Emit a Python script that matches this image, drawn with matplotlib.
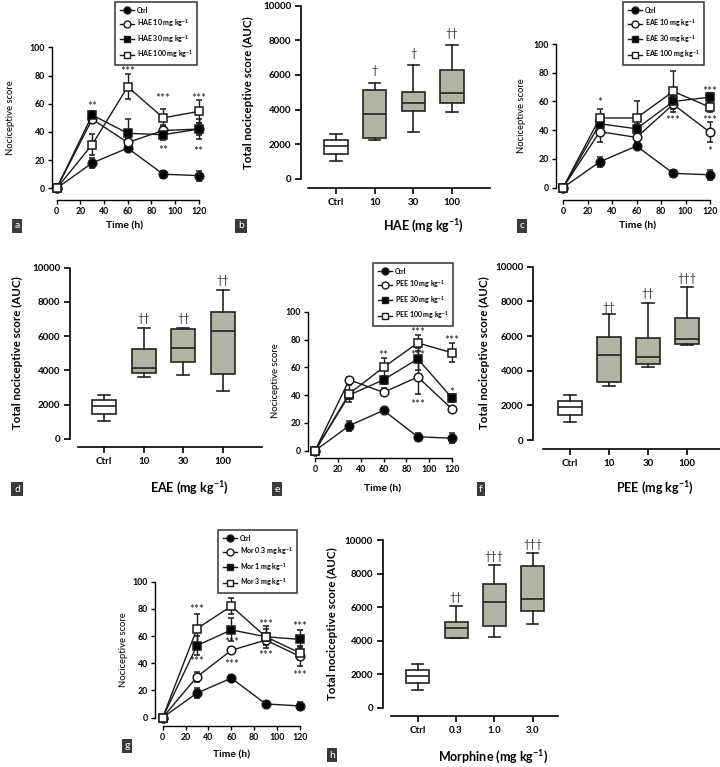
import matplotlib
matplotlib.use("Agg")
import matplotlib.pyplot as plt
from matplotlib.lines import Line2D

plt.rcParams['font.family'] = ['Lato', 'DejaVu Sans']
plt.rcParams['mathtext.default'] = 'regular'

# ---- data ----
TIME = [0, 30, 60, 90, 120]

# panel a - HAE
a_ctrl = [0, 18, 28.5, 10, 9]
a_ctrl_err = [0, 3.5, 2, 2.5, 3.5]
a_hae10 = [0, 49, 32.5, 41, 42]
a_hae10_err = [0, 3, 3, 4, 4]
a_hae30 = [0, 52, 39, 38, 42]
a_hae30_err = [0, 3, 10, 4, 7]
a_hae100 = [0, 31, 72, 50, 54.5]
a_hae100_err = [0, 7.5, 9, 6.5, 8]
a_stars = [(30, 60, '**'), (60, 85, '***'), (90, 66, '***'), (120, 66, '***'),
           (90, 29, '**'), (120, 28, '**')]

# panel c - EAE
c_ctrl = [0, 18, 29, 10, 9]
c_ctrl_err = [0, 3.5, 2, 2.5, 3.5]
c_eae10 = [0, 39, 35, 58, 38.5]
c_eae10_err = [0, 7.5, 3, 3, 7]
c_eae30 = [0, 44.5, 41, 60, 63]
c_eae30_err = [0, 3, 3, 4, 3]
c_eae100 = [0, 48.5, 48.5, 67, 56]
c_eae100_err = [0, 6, 12, 14.5, 3]
c_stars = [(30, 61, '*'), (90, 87, '***'), (120, 69, '***'), (90, 49, '***'),
           (120, 49, '***'), (120, 27, '*')]

# panel e - PEE
e_ctrl = [0, 18, 29, 10, 9]
e_ctrl_err = [0, 3.5, 2, 3, 3.5]
e_pee10 = [0, 51, 42, 53, 30]
e_pee10_err = [0, 2, 3, 12.5, 2.5]
e_pee30 = [0, 40, 51, 66, 38]
e_pee30_err = [0, 3, 3, 8, 3]
e_pee100 = [0, 41, 60, 77.5, 70.5]
e_pee100_err = [0, 6, 7, 6, 7]
e_stars = [(60, 70.5, '**'), (90, 87, '***'), (90, 70.5, '***'), (120, 81, '***'),
           (120, 44, '*'), (90, 35, '***')]

# panel g - morphine
g_ctrl = [0, 18, 29, 10, 8.5]
g_ctrl_err = [0, 3.5, 2, 2.5, 3]
g_mor03 = [0, 30, 49.5, 57, 45]
g_mor03_err = [0, 3.5, 2, 3, 7]
g_mor1 = [0, 53, 64.5, 59.5, 57.5]
g_mor1_err = [0, 7, 8.5, 6, 7]
g_mor3 = [0, 65.5, 82, 59.5, 47.5]
g_mor3_err = [0, 11, 6, 8, 5]
g_stars = [(30, 81.5, '***'), (30, 43, '***'), (60, 92.5, '***'), (60, 57, '***'),
           (60, 41, '***'), (90, 70.5, '***'), (90, 47.5, '***'), (120, 69, '***'),
           (120, 33, '***')]

# box plots: whislo, q1, med, q3, whishi per group
DOSES = ['Ctrl', '10', '30', '100']
MOR_DOSES = ['Ctrl', '0.3', '1.0', '3.0']

b_whislo = [1050, 2250, 2700, 3850]
b_q1 = [1430, 2350, 3900, 4350]
b_med = [1900, 3750, 4400, 4950]
b_q3 = [2250, 5100, 5000, 6300]
b_whishi = [2580, 5550, 6550, 7700]
b_marks = ['', '†', '†', '††']
b_mark_y = [0, 6280, 7250, 8400]

d_whislo = [1030, 3610, 3730, 2780]
d_q1 = [1475, 3850, 4485, 3790]
d_med = [1900, 4170, 5320, 6330]
d_q3 = [2250, 5240, 6400, 7440]
d_whishi = [2580, 6500, 6500, 8700]
d_marks = ['', '††', '††', '††']
d_mark_y = [0, 7050, 7050, 9280]

f_whislo = [1030, 3115, 4230, 5460]
f_q1 = [1450, 3370, 4385, 5540]
f_med = [1900, 4900, 4810, 5830]
f_q3 = [2250, 5960, 5900, 7060]
f_whishi = [2580, 7250, 7920, 8850]
f_marks = ['', '††', '††', '†††']
f_mark_y = [0, 7650, 8460, 9330]

h_whislo = [1050, 4135, 4200, 5010]
h_q1 = [1450, 4175, 4860, 5750]
h_med = [1890, 4730, 6290, 6480]
h_q3 = [2250, 5130, 7370, 8450]
h_whishi = [2600, 6060, 8520, 9240]
h_marks = ['', '††', '†††', '†††']
h_mark_y = [0, 6560, 8990, 9760]

# ---- layout helpers (pixel coordinates of the 720x767 canvas) ----
W, H = 720, 767
fig = plt.figure(figsize=(7.2, 7.67), dpi=100)
PT = 0.72  # points per pixel at 100 dpi


def axes_px(l, r, t, b):
    return fig.add_axes([l / W, 1 - b / H, (r - l) / W, (b - t) / H])


def ftext(x, y, s, **kw):
    fig.text(x / W, 1 - y / H, s, ha='center', va='center', **kw)


def panel_tag(x, y, s):
    fig.text(x / W, 1 - y / H, s, ha='center', va='center', color='white', fontsize=7.5,
             bbox=dict(boxstyle='square,pad=0.25', fc='#3a3a3a', ec='none'))


def line_panel(x0, x120, y100, y0, lsp, bsp, series, stars, leg_xy):
    ax = axes_px(x0, x120, y100, y0)
    ax.set_xlim(0, 120)
    ax.set_ylim(0, 100)
    handles = []
    for vals, err, mk, filled, label in series:
        fc = 'black' if filled else 'white'
        cont = ax.errorbar(TIME, vals, yerr=err, fmt='-' + mk, color='#1a1a1a', mfc=fc,
                           mec='#1a1a1a', ms=6.2, mew=1.1, lw=1.0, elinewidth=1.0,
                           capsize=2.5, capthick=1.0)
        for art in cont.get_children():
            art.set_clip_on(False)
        handles.append(Line2D([], [], color='#1a1a1a', marker=mk, mfc=fc, mec='#1a1a1a',
                              ms=5, mew=1, lw=1, label=label))
    for x, y, s in stars:
        ax.text(x, y - 2, s, ha='center', va='center', fontsize=8.5, color='#222')
    for side in ('top', 'right'):
        ax.spines[side].set_visible(False)
    ax.spines['left'].set_position(('outward', (x0 - lsp) * PT))
    ax.spines['bottom'].set_position(('outward', (bsp - y0) * PT))
    ax.spines['left'].set_bounds(0, 100)
    ax.spines['bottom'].set_bounds(0, 120)
    for sp in ('left', 'bottom'):
        ax.spines[sp].set_linewidth(1.0)
    ax.set_xticks(range(0, 121, 20))
    ax.set_yticks(range(0, 101, 20))
    ax.tick_params(labelsize=6.3, length=3, width=1.0, pad=2)
    for lab in ax.get_xticklabels() + ax.get_yticklabels():
        lab.set_fontweight('bold')
    leg = ax.legend(handles=handles, loc='upper left',
                    bbox_to_anchor=(leg_xy[0] / W, 1 - leg_xy[1] / H),
                    bbox_transform=fig.transFigure, borderaxespad=0, fancybox=False,
                    edgecolor='#333', framealpha=1, handlelength=2.0, handletextpad=0.4,
                    labelspacing=0.5, borderpad=0.7,
                    prop={'size': 5, 'weight': 'bold'})
    leg.get_frame().set_linewidth(1.1)
    return ax


def box_panel(x1, step, y10k, y0, lsp, bsp, bstart, bend, whislo, q1, med, q3, whishi,
              cats, marks, mark_y):
    right = min(bend, W)
    ax = axes_px(lsp, right, y10k, y0)
    ax.set_xlim(1 - (x1 - lsp) / step, 1 + (right - x1) / step)
    ax.set_ylim(0, 10000)
    stats = []
    for i in range(4):
        stats.append(dict(whislo=whislo[i], q1=q1[i], med=med[i], q3=q3[i],
                          whishi=whishi[i], label=cats[i]))
    bp = ax.bxp(stats, positions=[1, 2, 3, 4], widths=0.6, patch_artist=True,
                showfliers=False,
                boxprops=dict(linewidth=1.2, edgecolor='#222'),
                medianprops=dict(color='#222', linewidth=1.2),
                whiskerprops=dict(color='#222', linewidth=1.2),
                capprops=dict(color='#222', linewidth=1.2))
    for i, patch in enumerate(bp['boxes']):
        patch.set_facecolor('white' if i == 0 else '#b3b3a3')
    for i in range(4):
        if marks[i]:
            ax.text(i + 1, mark_y[i], marks[i], ha='center', va='center',
                    fontsize=8, color='#333')
    for side in ('top', 'right'):
        ax.spines[side].set_visible(False)
    ax.spines['bottom'].set_position(('outward', (bsp - y0) * PT))
    ax.spines['left'].set_bounds(0, 10000)
    ax.spines['bottom'].set_bounds(1 - (x1 - bstart) / step, 1 + (bend - x1) / step)
    for sp in ('left', 'bottom'):
        ax.spines[sp].set_linewidth(1.2)
    ax.set_yticks(range(0, 10001, 2000))
    ax.set_xticks([1, 2, 3, 4])
    ax.set_xticklabels(cats)
    ax.tick_params(labelsize=7, length=4, width=1.2, pad=3)
    for lab in ax.get_xticklabels() + ax.get_yticklabels():
        lab.set_fontweight('bold')
    return ax


# ---- panel a ----
line_panel(56.7, 198.7, 47.3, 188.3, 52, 200,
           [(a_ctrl, a_ctrl_err, 'o', True, 'Ctrl'),
            (a_hae10, a_hae10_err, 'o', False, 'HAE 10 mg kg$^{-1}$'),
            (a_hae30, a_hae30_err, 's', True, 'HAE 30 mg kg$^{-1}$'),
            (a_hae100, a_hae100_err, 's', False, 'HAE 100 mg kg$^{-1}$')],
           a_stars, (115, 2))
ftext(11, 118, 'Nociceptive score', rotation=90, fontsize=6.8)
ftext(125, 226, 'Time (h)', fontsize=7.5, fontweight='bold')
panel_tag(17, 226, 'a')

# ---- panel b ----
box_panel(336, 38.67, 5.7, 178.7, 301, 188.3, 308, 490,
          b_whislo, b_q1, b_med, b_q3, b_whishi, DOSES, b_marks, b_mark_y)
ftext(248, 93, 'Total nociceptive score (AUC)', rotation=90, fontsize=8.3, fontweight='bold')
ftext(423, 226, 'HAE (mg kg$^{-1}$)', fontsize=9, fontweight='bold')
panel_tag(241, 226, 'b')

# ---- panel c ----
line_panel(563, 710, 44, 187.7, 556, 200,
           [(c_ctrl, c_ctrl_err, 'o', True, 'Ctrl'),
            (c_eae10, c_eae10_err, 'o', False, 'EAE 10 mg kg$^{-1}$'),
            (c_eae30, c_eae30_err, 's', True, 'EAE 30 mg kg$^{-1}$'),
            (c_eae100, c_eae100_err, 's', False, 'EAE 100 mg kg$^{-1}$')],
           c_stars, (623, 2))
ftext(522, 116, 'Nociceptive score', rotation=90, fontsize=6.8)
ftext(638, 226, 'Time (h)', fontsize=7.5, fontweight='bold')
panel_tag(522, 226, 'c')

# ---- panel d ----
box_panel(104, 39.67, 267.7, 439, 70, 447, 78, 262,
          d_whislo, d_q1, d_med, d_q3, d_whishi, DOSES, d_marks, d_mark_y)
ftext(17, 353, 'Total nociceptive score (AUC)', rotation=90, fontsize=8.3, fontweight='bold')
ftext(189, 488, 'EAE (mg kg$^{-1}$)', fontsize=9, fontweight='bold')
panel_tag(17, 489, 'd')

# ---- panel e ----
line_panel(315, 452, 311.7, 450.7, 308, 458,
           [(e_ctrl, e_ctrl_err, 'o', True, 'Ctrl'),
            (e_pee10, e_pee10_err, 'o', False, 'PEE 10 mg kg$^{-1}$'),
            (e_pee30, e_pee30_err, 's', True, 'PEE 30 mg kg$^{-1}$'),
            (e_pee100, e_pee100_err, 's', False, 'PEE 100 mg kg$^{-1}$')],
           e_stars, (373, 263))
ftext(275, 381, 'Nociceptive score', rotation=90, fontsize=6.8)
ftext(383, 489, 'Time (h)', fontsize=7.5, fontweight='bold')
panel_tag(277, 489, 'e')

# ---- panel f ----
box_panel(570, 39, 266.7, 440, 533, 449, 543, 726,
          f_whislo, f_q1, f_med, f_q3, f_whishi, DOSES, f_marks, f_mark_y)
ftext(484, 353, 'Total nociceptive score (AUC)', rotation=90, fontsize=8.3, fontweight='bold')
ftext(655, 488, 'PEE (mg kg$^{-1}$)', fontsize=9, fontweight='bold')
panel_tag(481, 489, 'f')

# ---- panel g ----
line_panel(162.7, 300, 581.7, 717.5, 155, 726,
           [(g_ctrl, g_ctrl_err, 'o', True, 'Ctrl'),
            (g_mor03, g_mor03_err, 'o', False, 'Mor 0.3 mg kg$^{-1}$'),
            (g_mor1, g_mor1_err, 's', True, 'Mor 1 mg kg$^{-1}$'),
            (g_mor3, g_mor3_err, 's', False, 'Mor 3 mg kg$^{-1}$')],
           g_stars, (218, 530))
ftext(123, 650, 'Nociceptive score', rotation=90, fontsize=6.8)
ftext(232, 755, 'Time (h)', fontsize=7.5, fontweight='bold')
panel_tag(127, 746, 'g')

# ---- panel h ----
box_panel(417.7, 38.33, 540, 707.7, 382.7, 716, 390.7, 558,
          h_whislo, h_q1, h_med, h_q3, h_whishi, MOR_DOSES, h_marks, h_mark_y)
ftext(332, 624, 'Total nociceptive score (AUC)', rotation=90, fontsize=8.3, fontweight='bold')
ftext(493, 757, 'Morphine (mg kg$^{-1}$)', fontsize=9, fontweight='bold')
panel_tag(332, 755, 'h')

fig.savefig('out.png', dpi=100)
